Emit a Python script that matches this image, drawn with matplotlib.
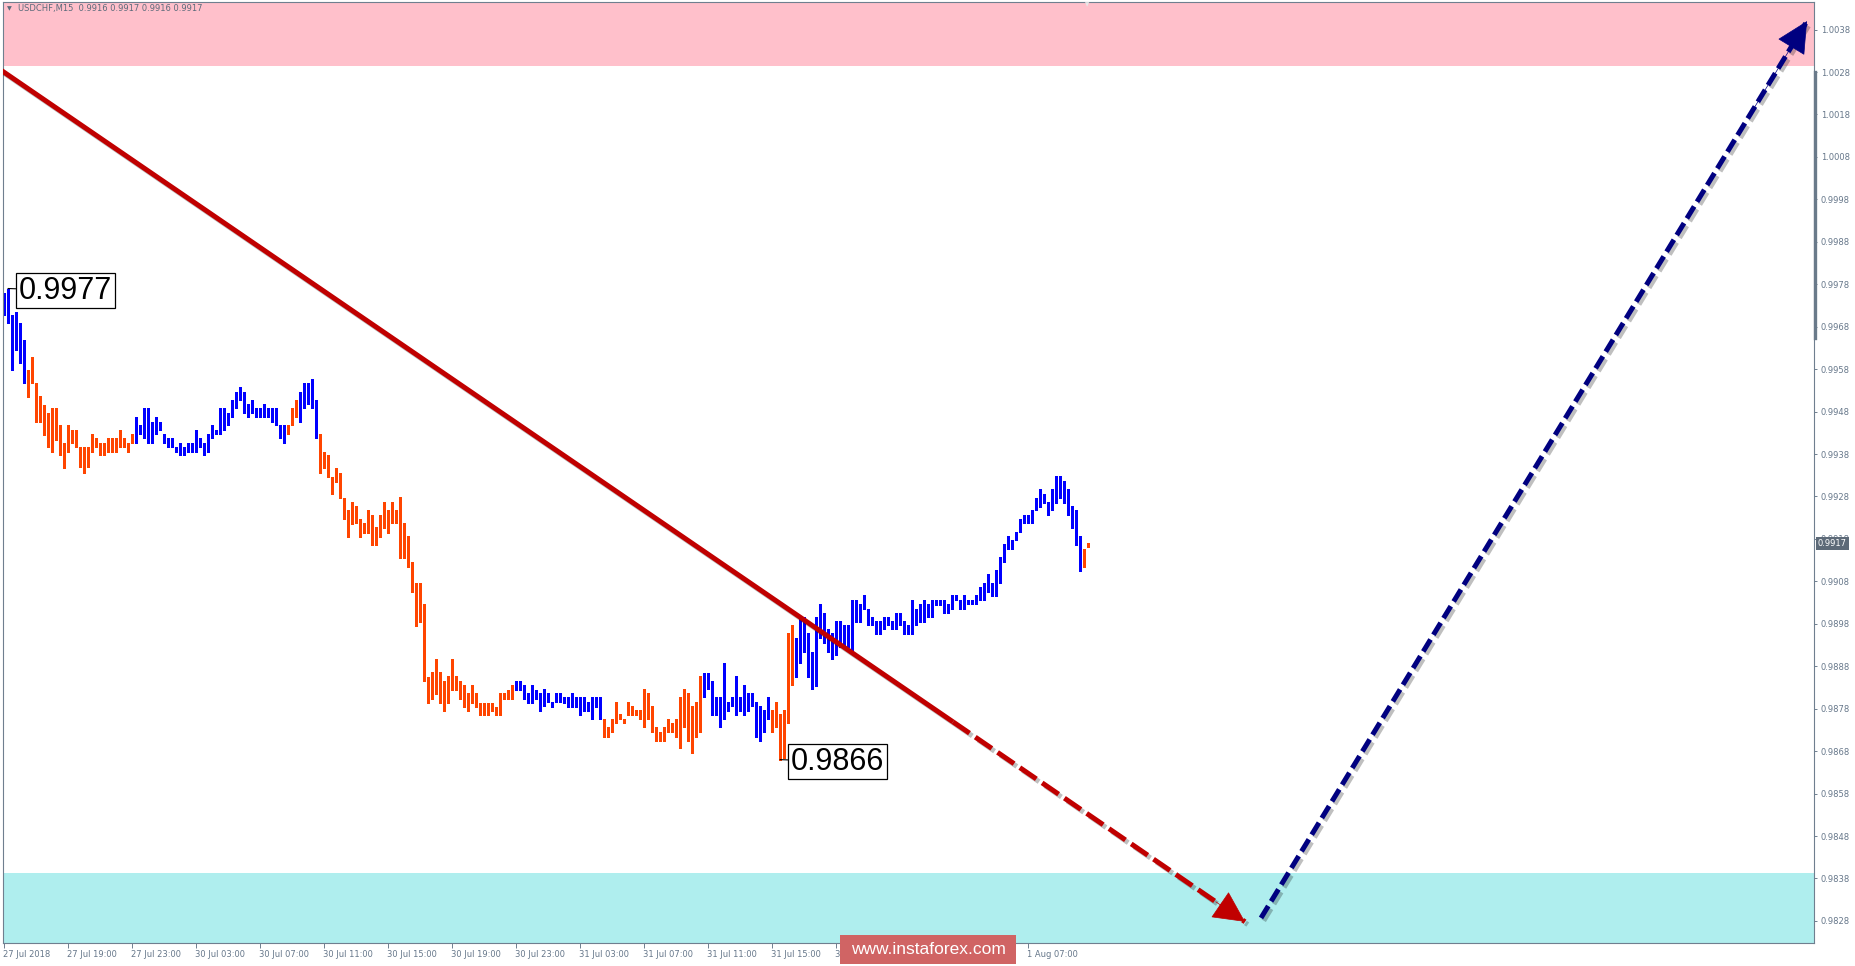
import numpy as np
import matplotlib
matplotlib.use('Agg')
import matplotlib.pyplot as plt
import matplotlib.patheffects as pe
from matplotlib.transforms import ScaledTranslation
from matplotlib.patches import Rectangle
from matplotlib.lines import Line2D

# USDCHF M15 bars from 27 Jul 2018 15:00, one entry per bar (high / low)
highs = [
    0.99759, 0.99770, 0.99708, 0.99715, 0.99689, 0.99649, 0.99578, 0.99608, 0.99547, 0.99517,
    0.99496, 0.99476, 0.99489, 0.99489, 0.99448, 0.99407, 0.99448, 0.99437, 0.99437, 0.99397,
    0.99397, 0.99397, 0.99427, 0.99417, 0.99407, 0.99407, 0.99417, 0.99417, 0.99417, 0.99437,
    0.99417, 0.99407, 0.99427, 0.99468, 0.99448, 0.99489, 0.99489, 0.99456, 0.99468, 0.99456,
    0.99427, 0.99417, 0.99417, 0.99397, 0.99407, 0.99397, 0.99407, 0.99407, 0.99437, 0.99417,
    0.99407, 0.99427, 0.99448, 0.99437, 0.99489, 0.99489, 0.99476, 0.99507, 0.99527, 0.99537,
    0.99527, 0.99498, 0.99507, 0.99489, 0.99489, 0.99498, 0.99489, 0.99488, 0.99489, 0.99448,
    0.99448, 0.99448, 0.99489, 0.99507, 0.99527, 0.99547, 0.99547, 0.99556, 0.99507, 0.99427,
    0.99385, 0.99378, 0.99327, 0.99346, 0.99336, 0.99276, 0.99248, 0.99268, 0.99258, 0.99226,
    0.99217, 0.99248, 0.99236, 0.99209, 0.99236, 0.99268, 0.99248, 0.99268, 0.99248, 0.99278,
    0.99217, 0.99187, 0.99126, 0.99077, 0.99077, 0.99027, 0.98855, 0.98867, 0.98896, 0.98867,
    0.98846, 0.98856, 0.98896, 0.98856, 0.98846, 0.98836, 0.98816, 0.98836, 0.98816, 0.98794,
    0.98794, 0.98794, 0.98794, 0.98785, 0.98816, 0.98816, 0.98824, 0.98836, 0.98846, 0.98846,
    0.98836, 0.98816, 0.98836, 0.98824, 0.98816, 0.98826, 0.98816, 0.98796, 0.98816, 0.98816,
    0.98807, 0.98807, 0.98816, 0.98807, 0.98807, 0.98807, 0.98796, 0.98807, 0.98807, 0.98807,
    0.98755, 0.98736, 0.98755, 0.98796, 0.98767, 0.98755, 0.98796, 0.98786, 0.98777, 0.98777,
    0.98826, 0.98816, 0.98786, 0.98736, 0.98726, 0.98736, 0.98755, 0.98746, 0.98755, 0.98807,
    0.98826, 0.98816, 0.98786, 0.98796, 0.98857, 0.98865, 0.98865, 0.98846, 0.98807, 0.98807,
    0.98887, 0.98796, 0.98807, 0.98857, 0.98807, 0.98836, 0.98816, 0.98816, 0.98796, 0.98786,
    0.98777, 0.98807, 0.98777, 0.98796, 0.98767, 0.98777, 0.98958, 0.98977, 0.98946, 0.98997,
    0.98997, 0.98958, 0.98914, 0.98997, 0.99027, 0.99006, 0.98967, 0.98958, 0.98987, 0.98987,
    0.98977, 0.98977, 0.99036, 0.99036, 0.99027, 0.99048, 0.99016, 0.98997, 0.98987, 0.98987,
    0.98997, 0.98997, 0.98987, 0.99006, 0.99006, 0.98987, 0.98977, 0.99036, 0.99016, 0.99027,
    0.99036, 0.99027, 0.99036, 0.99036, 0.99036, 0.99036, 0.99027, 0.99048, 0.99048, 0.99036,
    0.99048, 0.99036, 0.99036, 0.99048, 0.99067, 0.99077, 0.99097, 0.99077, 0.99107, 0.99138,
    0.99168, 0.99187, 0.99177, 0.99197, 0.99226, 0.99236, 0.99236, 0.99248, 0.99277, 0.99297,
    0.99287, 0.99268, 0.99297, 0.99328, 0.99328, 0.99316, 0.99297, 0.99258, 0.99248, 0.99187,
    0.99156, 0.99170,
]
lows = [
    0.99708, 0.99688, 0.99578, 0.99625, 0.99595, 0.99547, 0.99515, 0.99547, 0.99456, 0.99456,
    0.99425, 0.99397, 0.99385, 0.99413, 0.99378, 0.99346, 0.99385, 0.99405, 0.99397, 0.99350,
    0.99336, 0.99350, 0.99385, 0.99397, 0.99378, 0.99378, 0.99385, 0.99385, 0.99385, 0.99397,
    0.99397, 0.99385, 0.99407, 0.99407, 0.99427, 0.99417, 0.99407, 0.99407, 0.99427, 0.99437,
    0.99407, 0.99397, 0.99397, 0.99385, 0.99378, 0.99378, 0.99385, 0.99385, 0.99385, 0.99397,
    0.99378, 0.99385, 0.99417, 0.99427, 0.99427, 0.99437, 0.99448, 0.99468, 0.99488, 0.99507,
    0.99476, 0.99468, 0.99476, 0.99468, 0.99468, 0.99468, 0.99468, 0.99456, 0.99448, 0.99417,
    0.99407, 0.99427, 0.99448, 0.99468, 0.99456, 0.99488, 0.99497, 0.99488, 0.99417, 0.99336,
    0.99346, 0.99327, 0.99287, 0.99315, 0.99276, 0.99226, 0.99185, 0.99215, 0.99217, 0.99185,
    0.99195, 0.99195, 0.99166, 0.99166, 0.99185, 0.99205, 0.99195, 0.99217, 0.99217, 0.99134,
    0.99134, 0.99115, 0.99056, 0.98975, 0.98985, 0.98846, 0.98794, 0.98804, 0.98815, 0.98794,
    0.98775, 0.98794, 0.98824, 0.98824, 0.98804, 0.98785, 0.98775, 0.98794, 0.98785, 0.98765,
    0.98765, 0.98765, 0.98775, 0.98765, 0.98765, 0.98804, 0.98804, 0.98804, 0.98824, 0.98824,
    0.98804, 0.98794, 0.98794, 0.98804, 0.98775, 0.98787, 0.98796, 0.98785, 0.98796, 0.98796,
    0.98794, 0.98785, 0.98785, 0.98785, 0.98765, 0.98775, 0.98775, 0.98755, 0.98785, 0.98755,
    0.98714, 0.98714, 0.98726, 0.98746, 0.98755, 0.98746, 0.98765, 0.98765, 0.98765, 0.98755,
    0.98736, 0.98755, 0.98726, 0.98705, 0.98705, 0.98705, 0.98726, 0.98726, 0.98714, 0.98687,
    0.98736, 0.98705, 0.98675, 0.98714, 0.98726, 0.98807, 0.98826, 0.98765, 0.98765, 0.98736,
    0.98755, 0.98775, 0.98786, 0.98765, 0.98775, 0.98765, 0.98775, 0.98786, 0.98714, 0.98705,
    0.98726, 0.98755, 0.98726, 0.98736, 0.98658, 0.98665, 0.98746, 0.98836, 0.98855, 0.98887,
    0.98914, 0.98855, 0.98826, 0.98833, 0.98946, 0.98935, 0.98914, 0.98896, 0.98906, 0.98926,
    0.98926, 0.98926, 0.98917, 0.98985, 0.98985, 0.99016, 0.98977, 0.98977, 0.98956, 0.98956,
    0.98967, 0.98977, 0.98967, 0.98967, 0.98977, 0.98956, 0.98956, 0.98956, 0.98977, 0.98985,
    0.98985, 0.98995, 0.98995, 0.99024, 0.99024, 0.99006, 0.99006, 0.99016, 0.99036, 0.99016,
    0.99016, 0.99027, 0.99027, 0.99027, 0.99036, 0.99036, 0.99056, 0.99045, 0.99045, 0.99075,
    0.99126, 0.99156, 0.99156, 0.99177, 0.99197, 0.99217, 0.99217, 0.99217, 0.99248, 0.99256,
    0.99265, 0.99236, 0.99248, 0.99265, 0.99276, 0.99265, 0.99236, 0.99205, 0.99166, 0.99105,
    0.99115, 0.99160,
]
# wave colouring of the bars: (direction, number of bars)
wave_runs = [('up', 6), ('down', 27), ('up', 38), ('down', 3), ('up', 5), ('down', 49),
             ('up', 22), ('down', 25), ('up', 17), ('down', 6), ('up', 72), ('down', 2)]

time_label_bars = [0, 16, 32, 48, 64, 80, 96, 112, 128, 144, 160, 176, 192, 208, 224, 240, 256]
time_labels = ['27 Jul 2018', '27 Jul 19:00', '27 Jul 23:00', '30 Jul 03:00', '30 Jul 07:00',
               '30 Jul 11:00', '30 Jul 15:00', '30 Jul 19:00', '30 Jul 23:00', '31 Jul 03:00',
               '31 Jul 07:00', '31 Jul 11:00', '31 Jul 15:00', '31 Jul 19:00', '31 Jul 23:00',
               '1 Aug 03:00', '1 Aug 07:00']
price_ticks = [0.9828, 0.9838, 0.9848, 0.9858, 0.9868, 0.9878, 0.9888, 0.9898, 0.9908, 0.9918,
               0.9928, 0.9938, 0.9948, 0.9958, 0.9968, 0.9978, 0.9988, 0.9998, 1.0008, 1.0018,
               1.0028, 1.0038]

resistance_zone = (1.00294, 1.0050)
support_zone = (0.9815, 0.98392)
# wave arrows as (bar index, price)
down_wave_solid = [(-1, 1.00286), (237.25, 0.98749)]
down_wave_dashed = [(237.25, 0.98749), (310.25, 0.98278)]
up_wave = [(314.25, 0.98287), (450.75, 1.00400)]
extremes = [(1, 0.9977, '0.9977'), (194, 0.9866, '0.9866')]
last_price = 0.9917
header = 'USDCHF,M15  0.9916 0.9917 0.9916 0.9917'

W, H = 1856, 966
fig = plt.figure(figsize=(W / 100, H / 100), dpi=100)
fig.patch.set_facecolor('white')
ax = fig.add_axes([3 / W, 23 / H, 1811 / W, 941 / H])
ax.set_xlim(-0.25, 452.5)
ax.set_ylim(0.98228, 1.00445)

axis_col = '#6f7f8f'
lab_col = '#66778a'

ax.axhspan(resistance_zone[0], resistance_zone[1], color='#ffc0cb', lw=0, zorder=0)
ax.axhspan(support_zone[0], support_zone[1], color='#afeeee', lw=0, zorder=0)

colors = []
for d, n in wave_runs:
    colors += ['#0000ff' if d == 'up' else '#ff4500'] * n
idx = np.arange(len(highs))
ax.vlines(idx, lows, highs, colors=colors, linewidth=2.16, antialiased=False, zorder=2)

shadow = [pe.SimpleLineShadow(offset=(2, -2), shadow_color='k', alpha=0.25), pe.Normal()]
red = '#c00000'
navy = '#000080'
xs, ys = zip(*down_wave_solid)
ax.plot(xs, ys, color=red, lw=3.6, solid_capstyle='butt', zorder=5, path_effects=shadow)
xs, ys = zip(*down_wave_dashed)
ax.plot(xs, ys, color=red, lw=3.6, dashes=(4, 1.4), dash_capstyle='butt', zorder=5,
        path_effects=shadow)
xs, ys = zip(*up_wave)
ax.plot(xs, ys, color=navy, lw=3.6, dashes=(2.8, 1.1), dash_capstyle='butt', zorder=5,
        path_effects=shadow)

for pts, col in [(down_wave_dashed, red), (up_wave, navy)]:
    (x0, y0), (x1, y1) = pts
    ax.annotate('', xy=(x1, y1), xytext=(x1 - (x1 - x0) * 0.1, y1 - (y1 - y0) * 0.1),
                arrowprops=dict(arrowstyle='-|>,head_length=1.0,head_width=0.5',
                                mutation_scale=21, fc=col, ec=col, lw=0.5,
                                shrinkA=0, shrinkB=0), zorder=6)

for bx, py, txt in extremes:
    ax.annotate(txt, xy=(bx, py), xytext=(11, -2), textcoords='offset pixels',
                ha='left', va='center', fontsize=22, family='Liberation Sans', color='black',
                bbox=dict(boxstyle='square,pad=0.09', fc='white', ec='black', lw=0.9),
                arrowprops=dict(arrowstyle='-', color='black', lw=0.8, shrinkA=0, shrinkB=0),
                zorder=7)

for s in ax.spines.values():
    s.set_color(axis_col)
    s.set_linewidth(0.8)

ax.yaxis.tick_right()
ax.set_yticks(price_ticks)
ax.set_yticklabels([f'{p:.4f}' for p in price_ticks])
ax.tick_params(axis='y', direction='out', length=2.5, width=0.7, pad=2.5, labelsize=6,
               color=axis_col, labelcolor=lab_col)
ax.set_xticks(time_label_bars)
ax.set_xticklabels(time_labels)
ax.tick_params(axis='x', direction='out', length=3.5, width=0.7, pad=1.5, labelsize=6,
               color=axis_col, labelcolor=lab_col)
for lab in ax.get_xticklabels():
    lab.set_horizontalalignment('left')
    lab.set_transform(lab.get_transform() + ScaledTranslation(-0.01, 0, fig.dpi_scale_trans))

# current price tag on the price scale
ax.annotate('0.9917', xy=(1.0, last_price), xycoords=('axes fraction', 'data'),
            xytext=(4, 0), textcoords='offset pixels', ha='left', va='center',
            fontsize=6, color='white', zorder=8, annotation_clip=False,
            bbox=dict(boxstyle='square,pad=0.25', fc='#5d6a78', ec='none'))

# scroll marker on the price scale
fig.add_artist(Line2D([1815 / W, 1815 / W], [1 - 72 / H, 1 - 338 / H], color='#6a7a8a', lw=2.4))
fig.text(7 / W, 1 - 9 / H, '\u25bc', fontsize=4.5, color='#5b6b7b', va='center', ha='left')
fig.text(18 / W, 1 - 9 / H, header, fontsize=6, color='#5b6b7b', va='center', ha='left')
fig.text(1087 / W, 1 - 5 / H, '\u25bc', fontsize=4, color='#e8e8e8', va='center', ha='center')

fig.add_artist(Rectangle((840 / W, 1 - 964 / H), 176 / W, 29 / H, transform=fig.transFigure,
                         fc='#d06464', ec='none', zorder=10))
fig.text(928 / W, 1 - 950 / H, 'www.instaforex.com', ha='center', va='center', color='white',
         fontsize=12.5, family='Liberation Sans', zorder=11)

fig.savefig('out.png', dpi=100)
